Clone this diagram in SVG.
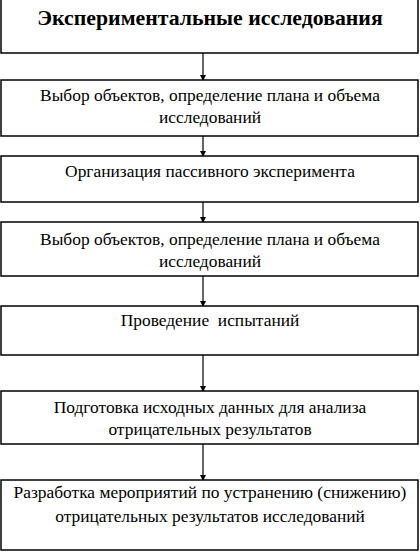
<svg xmlns="http://www.w3.org/2000/svg" width="420" height="553" viewBox="0 0 420 553">
<style>
.box{fill:#fff;stroke:#000;stroke-width:1.5}
.t{font-family:"Liberation Serif","Times New Roman",serif;font-size:17.4px;fill:#000;text-anchor:middle}
.h{font-family:"Liberation Serif","Times New Roman",serif;font-size:21.8px;font-weight:bold;fill:#000;text-anchor:middle}
.c{stroke:#000;stroke-width:1.2;fill:none;marker-end:url(#ah)}
</style>
<defs>
<marker id="ah" markerWidth="6" markerHeight="6" refX="5" refY="3" orient="auto" markerUnits="userSpaceOnUse">
<path d="M0,0 L6,3 L0,6 Z" fill="#000"/>
</marker>
</defs>
<rect width="420" height="553" fill="#fff"/>
<g id="connectors">
<line class="c" x1="203" y1="53" x2="203" y2="80"/>
<line class="c" x1="203" y1="136" x2="203" y2="156"/>
<line class="c" x1="203" y1="202" x2="203" y2="222"/>
<line class="c" x1="203" y1="276" x2="203" y2="306"/>
<line class="c" x1="203" y1="355" x2="203" y2="391"/>
<line class="c" x1="203" y1="444" x2="203" y2="480"/>
</g>
<g id="n1">
<rect class="box" x="1" y="-1" width="417" height="54"/>
<text class="h" x="210" y="25">Экспериментальные исследования</text>
</g>
<g id="n2">
<rect class="box" x="1" y="80" width="417" height="56"/>
<text class="t" x="210" y="101">Выбор объектов, определение плана и объема</text>
<text class="t" x="210" y="123">исследований</text>
</g>
<g id="n3">
<rect class="box" x="1" y="156" width="417" height="46"/>
<text class="t" x="210" y="177">Организация пассивного эксперимента</text>
</g>
<g id="n4">
<rect class="box" x="1" y="222" width="417" height="54"/>
<text class="t" x="210" y="245">Выбор объектов, определение плана и объема</text>
<text class="t" x="210" y="267">исследований</text>
</g>
<g id="n5">
<rect class="box" x="1" y="306" width="417" height="49"/>
<text class="t" x="210" y="326" xml:space="preserve">Проведение  испытаний</text>
</g>
<g id="n6">
<rect class="box" x="1" y="391" width="417" height="53"/>
<text class="t" x="210" y="413">Подготовка исходных данных для анализа</text>
<text class="t" x="210" y="435">отрицательных результатов</text>
</g>
<g id="n7">
<rect class="box" x="1" y="480" width="417" height="70"/>
<text class="t" x="210" y="498">Разработка мероприятий по устранению (снижению)</text>
<text class="t" x="210" y="522">отрицательных результатов исследований</text>
</g>
</svg>
